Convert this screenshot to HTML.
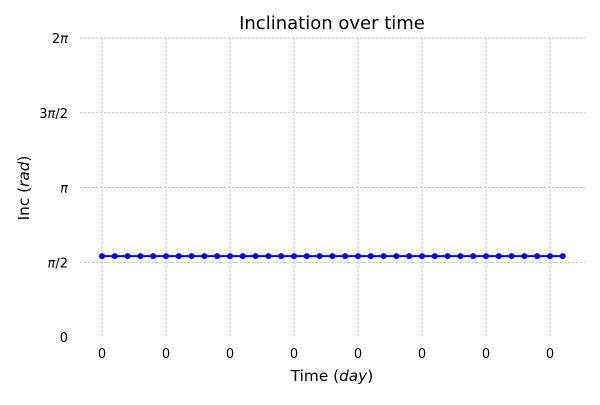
<!DOCTYPE html>
<html><head><meta charset="utf-8"><style>
body{margin:0;background:#fff;}
svg{font-family:"DejaVu Sans","Liberation Sans",sans-serif;}
</style></head><body>
<svg id="chart" width="600" height="400" viewBox="0 0 600 400">
<text x="332" y="29" text-anchor="middle" font-size="18" fill="#000">Inclination over time</text>
<g id="grid"></g>
<g id="series"></g>
<g id="ticks"></g>
<text x="332" y="381" text-anchor="middle" font-size="15.3">Time (<tspan font-style="italic">day</tspan>)</text>
<text transform="translate(29,188) rotate(-90)" text-anchor="middle" font-size="15.3">Inc (<tspan font-style="italic">rad</tspan>)</text>
</svg>
<script>
const yTickValues=[0,Math.PI/2,Math.PI,3*Math.PI/2,2*Math.PI];
const yTickLabels=["0","\u03c0/2","\u03c0","3\u03c0/2","2\u03c0"];
const xTickValues=[0,5,10,15,20,25,30,35];
const xTickLabels=["0","0","0","0","0","0","0","0"];
const incValues=[1.70,1.70,1.70,1.70,1.70,1.70,1.70,1.70,1.70,1.70,1.70,1.70,1.70,1.70,1.70,1.70,1.70,1.70,1.70,1.70,1.70,1.70,1.70,1.70,1.70,1.70,1.70,1.70,1.70,1.70,1.70,1.70,1.70,1.70,1.70,1.70,1.70];
const NS="http://www.w3.org/2000/svg";
const xs=i=>102+i*12.8;
const ys=v=>337-v*(299/(2*Math.PI));
function mk(tag,attrs,parent){const e=document.createElementNS(NS,tag);for(const k in attrs)e.setAttribute(k,attrs[k]);document.getElementById(parent).appendChild(e);return e;}
yTickValues.forEach((v,i)=>{
  if(i>0){const g=mk('line',{x1:80,x2:585,y1:ys(v),y2:ys(v),stroke:'#b0b0b0','stroke-width':0.8,'stroke-dasharray':'2.5,1.5'},'grid');
  
  }
  const t=mk('text',{x:68,y:ys(v)+5,'text-anchor':'end','font-size':13},'ticks');
  yTickLabels[i].split(/(\u03c0)/).forEach(p=>{if(!p)return;const s=document.createElementNS(NS,'tspan');if(p==='\u03c0')s.setAttribute('font-style','italic');s.textContent=p;t.appendChild(s);});
  
  
});
xTickValues.forEach((v,i)=>{
  const g=mk('line',{x1:xs(v),x2:xs(v),y1:38,y2:337,stroke:'#b0b0b0','stroke-width':0.8,'stroke-dasharray':'2.5,1.5'},'grid');
  
  
  const t=mk('text',{x:xs(v),y:358,'text-anchor':'middle','font-size':13},'ticks');t.textContent=xTickLabels[i];
  
  
});
const pl=mk('polyline',{points:incValues.map((v,i)=>xs(i)+','+ys(v)).join(' '),fill:'none',stroke:'#0000ff','stroke-width':2},'series');


incValues.forEach((v,i)=>{
  const c=mk('circle',{cx:xs(i),cy:ys(v),r:3,fill:'#0000ff'},'series');
  
  
});
</script>
</body></html>
